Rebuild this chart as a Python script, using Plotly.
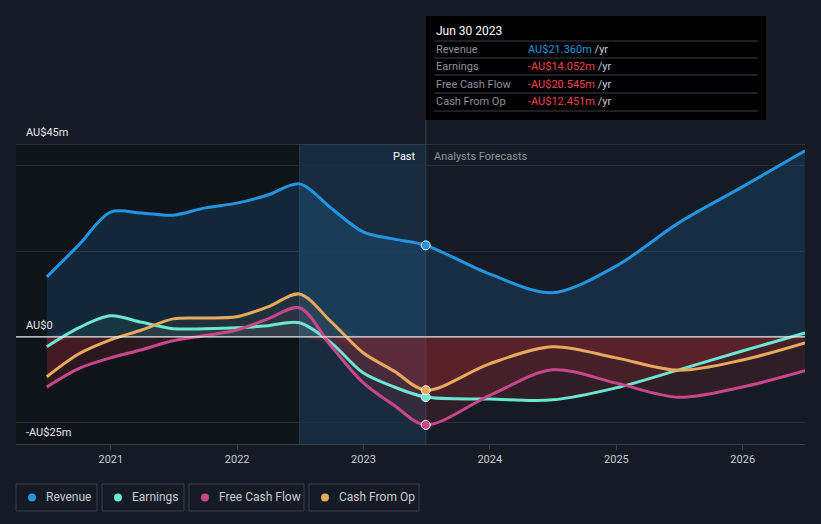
import plotly.graph_objects as go

# ---------------- data ----------------
dates = ['2020-06-30', '2020-09-30', '2020-12-31', '2021-03-31', '2021-06-30', '2021-09-30',
         '2021-12-31', '2022-03-31', '2022-06-30', '2022-09-30', '2022-12-31', '2023-03-31',
         '2023-06-30', '2023-12-31', '2024-06-30', '2024-12-31', '2025-06-30', '2025-12-31',
         '2026-06-30']
revenue = [14.0, 21.4, 29.1, 28.9, 28.4, 30.1, 31.2, 33.1, 35.7, 30.0, 24.5, 22.8,
           21.36, 14.7, 10.3, 16.5, 26.6, 35.0, 43.4]
earnings = [-2.3, 2.1, 4.9, 3.4, 1.9, 1.9, 2.1, 2.6, 3.3, -1.4, -8.4, -11.7,
            -14.052, -14.5, -14.7, -11.9, -7.7, -3.3, 0.9]
fcf = [-11.7, -7.4, -4.9, -3.0, -0.9, 0.3, 1.6, 4.2, 6.8, -2.2, -10.7, -16.0,
       -20.545, -13.7, -7.7, -10.8, -14.1, -11.7, -7.9]
cfo = [-9.3, -4.0, -0.7, 1.6, 4.2, 4.4, 4.7, 7.0, 10.0, 3.5, -3.7, -8.0,
       -12.451, -6.3, -2.3, -4.9, -7.8, -5.4, -1.4]

series_names = ['Revenue', 'Earnings', 'Free Cash Flow', 'Cash From Op']
series_colors = ['#2394df', '#6de6d1', '#c8478b', '#e9a95c']
tooltip_values = ['AU$21.360m', '-AU$14.052m', '-AU$20.545m', '-AU$12.451m']
tooltip_colors = ['#2394df', '#f0434a', '#f0434a', '#f0434a']
year_ticks = ['2021', '2022', '2023', '2024', '2025', '2026']
y_labels = [(45, 'AU$45m'), (0, 'AU$0'), (-25, '-AU$25m')]

now_date = '2023-06-30'
past_start = '2022-06-30'
x_range = ['2020-04-02', '2026-06-30']
y_range = [-25, 45]

W, H = 821, 524
ML, MR, MT, MB = 16, 16, 144, 80
PW = W - ML - MR
PH = H - MT - MB


def px_x(p):
    return (p - ML) / PW


def px_y(p):
    return (H - MB - p) / PH


BG = '#151b24'
GRID = '#262d37'
TXT = '#c8ccd2'

fig = go.Figure()

# Revenue fill + line
fig.add_trace(go.Scatter(x=dates, y=revenue, mode='lines', line=dict(width=0, shape='spline'),
                         fill='tozeroy', fillcolor='rgba(35,148,223,0.16)', hoverinfo='skip',
                         showlegend=False))

# positive / negative fills for the other series
for vals, col in [(earnings, series_colors[1]), (fcf, series_colors[2]), (cfo, series_colors[3])]:
    pos = [max(v, 0) for v in vals]
    neg = [min(v, 0) for v in vals]
    r, g, b = int(col[1:3], 16), int(col[3:5], 16), int(col[5:7], 16)
    fig.add_trace(go.Scatter(x=dates, y=pos, mode='lines', line=dict(width=0, shape='spline', smoothing=0.8),
                             fill='tozeroy', fillcolor=f'rgba({r},{g},{b},0.07)', hoverinfo='skip',
                             showlegend=False))
    fig.add_trace(go.Scatter(x=dates, y=neg, mode='lines', line=dict(width=0, shape='spline', smoothing=0.8),
                             fill='tozeroy', fillcolor='rgba(185,45,55,0.17)', hoverinfo='skip',
                             showlegend=False))

# lines
for name, vals, col in zip(series_names, [revenue, earnings, fcf, cfo], series_colors):
    fig.add_trace(go.Scatter(x=dates, y=vals, mode='lines', name=name,
                             line=dict(color=col, width=3, shape='spline', smoothing=0.9),
                             hoverinfo='skip', showlegend=False))

# markers at the current date
now_idx = dates.index(now_date)
for vals, col in zip([revenue, earnings, fcf, cfo], series_colors):
    fig.add_trace(go.Scatter(x=[now_date], y=[vals[now_idx]], mode='markers',
                             marker=dict(color=col, size=9, line=dict(color='white', width=1)),
                             hoverinfo='skip', showlegend=False))

shapes = []
# dark past region
shapes.append(dict(type='rect', xref='x', yref='paper', x0=x_range[0], x1=past_start, y0=0, y1=1,
                   fillcolor='rgba(5,8,12,0.35)', line=dict(width=0), layer='below'))
# highlighted last-year region
shapes.append(dict(type='rect', xref='x', yref='paper', x0=past_start, x1=now_date, y0=0, y1=1,
                   fillcolor='rgba(30,100,160,0.22)', line=dict(width=0), layer='below'))
shapes.append(dict(type='line', xref='x', yref='paper', x0=past_start, x1=past_start, y0=0, y1=1,
                   line=dict(color='rgba(60,110,160,0.35)', width=1), layer='below'))
# top border line
shapes.append(dict(type='line', xref='paper', yref='y', x0=0, x1=1, y0=45, y1=45,
                   line=dict(color='#434a54', width=1)))
# zero line
shapes.append(dict(type='line', xref='paper', yref='y', x0=0, x1=1, y0=0, y1=0,
                   line=dict(color='#e8e8ea', width=1.2)))
# vertical now line up to tooltip
shapes.append(dict(type='line', xref='x', yref='paper', x0=now_date, x1=now_date, y0=0, y1=px_y(120),
                   line=dict(color='#2b3b4d', width=1.2), layer='below'))

# tooltip box
tx0, tx1, ty0, ty1 = 426, 766, 16, 120
shapes.append(dict(type='rect', xref='paper', yref='paper', x0=px_x(tx0), x1=px_x(tx1),
                   y0=px_y(ty1), y1=px_y(ty0), fillcolor='#000000', line=dict(width=0)))
for sy in [41, 58, 75, 93, 111]:
    shapes.append(dict(type='line', xref='paper', yref='paper', x0=px_x(434), x1=px_x(758),
                       y0=px_y(sy), y1=px_y(sy), line=dict(color='#3a3f46', width=1)))

annotations = []
annotations.append(dict(xref='paper', yref='paper', x=px_x(434), y=px_y(31), text='Jun 30 2023',
                        showarrow=False, xanchor='left', yanchor='middle',
                        font=dict(color='#ffffff', size=12, family='Roboto')))
for i, (nm, val, vc) in enumerate(zip(series_names, tooltip_values, tooltip_colors)):
    ry = [49, 66, 84, 101][i]
    annotations.append(dict(xref='paper', yref='paper', x=px_x(434), y=px_y(ry), text=nm,
                            showarrow=False, xanchor='left', yanchor='middle',
                            font=dict(color='#8d939b', size=11, family='Roboto')))
    annotations.append(dict(xref='paper', yref='paper', x=px_x(526), y=px_y(ry),
                            text=f"<span style='color:{vc}'>{val}</span> /yr",
                            showarrow=False, xanchor='left', yanchor='middle',
                            font=dict(color='#c8ccd2', size=11, family='Roboto')))

# Past / Analysts Forecasts
annotations.append(dict(xref='x', yref='paper', x=now_date, y=px_y(156), text='Past', showarrow=False,
                        xanchor='right', yanchor='middle', xshift=-8,
                        font=dict(color='#ffffff', size=11, family='Roboto')))
annotations.append(dict(xref='x', yref='paper', x=now_date, y=px_y(156), text='Analysts Forecasts',
                        showarrow=False, xanchor='left', yanchor='middle', xshift=6,
                        font=dict(color='#8d939b', size=11, family='Roboto')))

# y labels
for val, lab in y_labels:
    annotations.append(dict(xref='paper', yref='y', x=px_x(24), y=val, text=lab, showarrow=False,
                            xanchor='left', yanchor='bottom', yshift=3,
                            font=dict(color='#e6e8eb', size=11, family='Roboto')))

# manual legend
legend_boxes = [(16, 97), (102, 184), (189, 304), (309, 419)]
for (bx0, bx1), nm, col in zip(legend_boxes, series_names, series_colors):
    shapes.append(dict(type='rect', xref='paper', yref='paper', x0=px_x(bx0), x1=px_x(bx1),
                       y0=px_y(511), y1=px_y(484), line=dict(color='#3a404a', width=1),
                       fillcolor='rgba(0,0,0,0)'))
    shapes.append(dict(type='circle', xref='paper', yref='paper', xsizemode='pixel', ysizemode='pixel',
                       xanchor=px_x(bx0 + 16), yanchor=px_y(497.5), x0=-4, x1=4, y0=-4, y1=4,
                       fillcolor=col, line=dict(width=0)))
    annotations.append(dict(xref='paper', yref='paper', x=px_x(bx0 + 28), y=px_y(497.5), text=nm,
                            showarrow=False, xanchor='left', yanchor='middle',
                            font=dict(color=TXT, size=12, family='Roboto')))

fig.update_layout(
    width=W, height=H,
    margin=dict(l=ML, r=MR, t=MT, b=MB),
    paper_bgcolor=BG, plot_bgcolor=BG,
    shapes=shapes, annotations=annotations,
    showlegend=False, hovermode=False,
    font=dict(family='Roboto', color=TXT),
    xaxis=dict(type='date', range=x_range, showgrid=False, zeroline=False,
               tickvals=[f'{y}-01-01' for y in year_ticks], ticktext=year_ticks,
               ticks='outside', ticklen=5, tickcolor='#3a404a',
               showline=True, linecolor='#3a404a', linewidth=1,
               tickfont=dict(color=TXT, size=11, family='Roboto')),
    yaxis=dict(range=y_range, tickvals=[-20, 0, 20, 40], showticklabels=False,
               gridcolor=GRID, gridwidth=1, zeroline=False, showline=False),
)

fig.write_html('out.html')
